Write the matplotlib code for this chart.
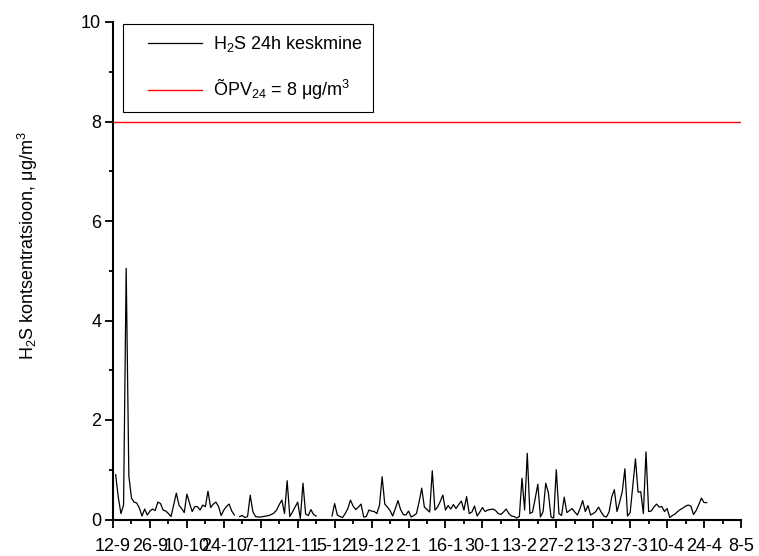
import numpy as np
import matplotlib
matplotlib.use("Agg")
import matplotlib.pyplot as plt
from matplotlib.ticker import FixedLocator, MultipleLocator
from matplotlib.legend_handler import HandlerLine2D

plt.rcParams["font.family"] = ["Liberation Sans", "DejaVu Sans"]
plt.rcParams["mathtext.fontset"] = "custom"
plt.rcParams["mathtext.rm"] = "Liberation Sans"
plt.rcParams["mathtext.it"] = "Liberation Sans:italic"
plt.rcParams["mathtext.bf"] = "Liberation Sans:bold"

nan = np.nan

# Daily mean H2S concentration (µg/m³), one value per day starting 13-9; nan = no data
h2s_daily = [
    0.90, 0.45, 0.12, 0.29, 5.05, 0.88, 0.43, 0.35, 0.33, 0.23,   # 13-9 .. 22-9
    0.07, 0.21, 0.09, 0.17, 0.21, 0.18, 0.35, 0.32, 0.19, 0.17,   # 23-9 .. 2-10
    0.12, 0.06, 0.30, 0.53, 0.29, 0.22, 0.14, 0.51, 0.33, 0.16,   # 3-10 .. 12-10
    0.26, 0.26, 0.19, 0.29, 0.26, 0.57, 0.24, 0.31, 0.35, 0.26,   # 13-10 .. 22-10
    0.08, 0.19, 0.26, 0.31, 0.17, 0.09, nan,  0.06, 0.08, 0.04,   # 23-10 .. 1-11
    0.06, 0.49, 0.16, 0.06, 0.05, 0.05, 0.06, 0.07, 0.08, 0.10,   # 2-11 .. 11-11
    0.13, 0.19, 0.30, 0.39, 0.12, 0.78, 0.06, 0.15, 0.25, 0.35,   # 12-11 .. 21-11
    0.02, 0.73, 0.11, 0.08, 0.20, 0.10, 0.07, nan,  nan,  nan,    # 22-11 .. 1-12
    nan,  nan,  0.07, 0.32, 0.09, 0.06, 0.04, 0.12, 0.22, 0.39,   # 2-12 .. 11-12
    0.27, 0.20, 0.25, 0.31, 0.05, 0.06, 0.19, 0.17, 0.16, 0.12,   # 12-12 .. 21-12
    0.29, 0.86, 0.31, 0.25, 0.18, 0.07, 0.22, 0.38, 0.20, 0.10,   # 22-12 .. 31-12
    0.09, 0.17, 0.05, 0.08, 0.12, 0.35, 0.63, 0.25, 0.20, 0.15,   # 1-1 .. 10-1
    0.98, 0.19, 0.25, 0.36, 0.49, 0.19, 0.28, 0.21, 0.30, 0.22,   # 11-1 .. 20-1
    0.30, 0.37, 0.19, 0.46, 0.12, 0.15, 0.27, 0.07, 0.15, 0.24,   # 21-1 .. 30-1
    0.16, 0.19, 0.20, 0.21, 0.18, 0.12, 0.10, 0.15, 0.21, 0.12,   # 31-1 .. 9-2
    0.07, 0.06, 0.03, 0.06, 0.83, 0.19, 1.33, 0.12, 0.15, 0.42,   # 10-2 .. 19-2
    0.71, 0.05, 0.16, 0.73, 0.54, 0.05, 0.03, 1.00, 0.12, 0.08,   # 20-2 .. 1-3
    0.45, 0.14, 0.18, 0.22, 0.15, 0.09, 0.22, 0.38, 0.16, 0.28,   # 2-3 .. 11-3
    0.09, 0.12, 0.16, 0.25, 0.15, 0.07, 0.05, 0.15, 0.45, 0.60,   # 12-3 .. 21-3
    0.16, 0.35, 0.56, 1.02, 0.07, 0.14, 0.67, 1.22, 0.55, 0.56,   # 22-3 .. 31-3
    0.12, 1.36, 0.16, 0.17, 0.25, 0.31, 0.25, 0.26, 0.16, 0.22,   # 1-4 .. 10-4
    0.04, 0.08, 0.11, 0.16, 0.20, 0.23, 0.27, 0.29, 0.27, 0.10,   # 11-4 .. 20-4
    0.18, 0.30, 0.43, 0.34, 0.34,                                 # 21-4 .. 25-4
]
first_day = 1            # day offset of the first value, counted from 12-9

limit_value = 8          # ÕPV24 limit, µg/m³

date_labels = ["12-9", "26-9", "10-10", "24-10", "7-11", "21-11", "5-12", "19-12",
               "2-1", "16-1", "30-1", "13-2", "27-2", "13-3", "27-3", "10-4",
               "24-4", "8-5"]
label_step_days = 14

series_label = r"H$\mathregular{_2}$S 24h keskmine"
limit_label = r"ÕPV$\mathregular{_{24}}$ = 8 μg/m$\mathregular{^3}$"
y_label = r"H$\mathregular{_2}$S kontsentratsioon, μg/m$\mathregular{^3}$"


class InsetLine(HandlerLine2D):
    """Legend line that leaves an empty lead-in before the sample line."""

    def __init__(self, lead=0.25, **kw):
        super().__init__(**kw)
        self.lead = lead

    def get_xdata(self, legend, xdescent, ydescent, width, height, fontsize):
        x0 = -xdescent + self.lead * width
        x1 = -xdescent + width
        return [x0, x1], [0.5 * (x0 + x1)]


W, H = 759, 556
fig = plt.figure(figsize=(W / 100, H / 100), dpi=100)
ax = fig.add_axes([113 / W, (H - 519.5) / H, 628 / W, 497.5 / H])

days = np.arange(first_day, first_day + len(h2s_daily))
line_data, = ax.plot(days, h2s_daily, color="black", lw=0.9, label=series_label)
line_limit = ax.axhline(limit_value, color="red", lw=1.0, label=limit_label)

n_days = label_step_days * (len(date_labels) - 1)
ax.set_xlim(0, n_days)
ax.set_ylim(0, 10)

ax.xaxis.set_major_locator(FixedLocator(np.arange(0, n_days + 1, label_step_days)))
ax.xaxis.set_minor_locator(MultipleLocator(label_step_days / 2))
ax.set_xticklabels(date_labels)
ax.yaxis.set_major_locator(MultipleLocator(2))
ax.yaxis.set_minor_locator(MultipleLocator(1))

for side in ("top", "right"):
    ax.spines[side].set_visible(False)
for side in ("left", "bottom"):
    ax.spines[side].set_linewidth(1.5)

ax.tick_params(which="major", direction="out", length=5.5, width=1.3,
               labelsize=13, pad=3)
ax.tick_params(which="minor", direction="out", length=3, width=1.3)
ax.tick_params(axis="x", which="major", pad=8)

ax.set_ylabel(y_label, fontsize=13)
ax.yaxis.set_label_coords((40 - 113) / 628, 0.55)

leg = ax.legend(handles=[line_data, line_limit], loc="upper left",
                bbox_to_anchor=((123 - 113) / 628, (519.5 - 24) / 497.5),
                borderaxespad=0, fontsize=13, frameon=True, fancybox=False,
                edgecolor="black", framealpha=1, borderpad=0.55,
                handlelength=3.85, handletextpad=0.6, labelspacing=1.35,
                handler_map={matplotlib.lines.Line2D: InsetLine(lead=0.21)})
leg.get_frame().set_linewidth(0.8)

fig.savefig("out.png", dpi=100)
